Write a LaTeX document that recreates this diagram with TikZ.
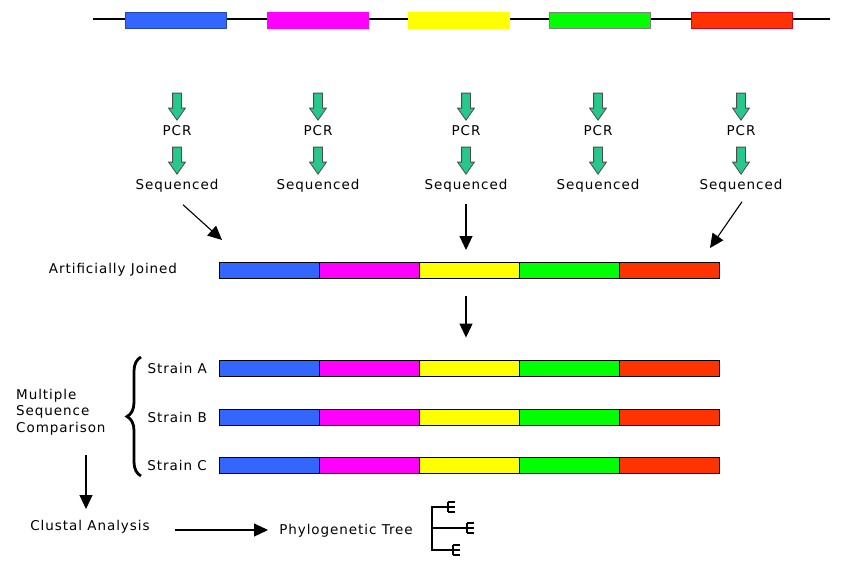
\documentclass[tikz,border=0pt]{standalone}
\usepackage{fontspec}
\setmainfont{DejaVu Sans}[LetterSpace=7]
\usepackage{xcolor}
\usetikzlibrary{shapes.arrows,arrows.meta,decorations.pathreplacing}

\definecolor{segblue}{RGB}{51,102,255}
\definecolor{segmagenta}{RGB}{255,0,255}
\definecolor{segyellow}{RGB}{255,255,0}
\definecolor{seggreen}{RGB}{0,255,0}
\definecolor{segred}{RGB}{255,51,0}
\definecolor{arrowgreen}{RGB}{40,200,140}

\begin{document}
\begin{tikzpicture}
            [x=1pt, y=-1pt,
            every node/.style={font=\fontsize{13.5}{16}\selectfont, inner sep=1pt},
            seg/.style={draw=black, line width=0.9pt, minimum width=100pt, minimum height=16pt, inner sep=0pt},
            gene/.style={line width=1pt, minimum width=101pt, minimum height=16pt, inner sep=0pt},
            greenarrow/.style={single arrow, shape border rotate=270, draw=black!70, fill=arrowgreen,
                minimum height=27pt, inner sep=4pt, single arrow head extend=4pt,
                single arrow tip angle=70, line width=0.8pt},
            bigarrow/.style={line width=1.1pt, -{Triangle[length=14pt,width=13pt]}}]

            \useasboundingbox (0,0) rectangle (853,573);

            % the gene with its five regions
            \draw[line width=2.5pt] (93,19) -- (830,19);
            \foreach \x/\c/\b [count=\i] in {175.5/segblue/segblue!70!black, 317.5/segmagenta/segmagenta,
                    459/segyellow/segyellow, 600/seggreen/gray, 741.5/segred/purple!60!red}
                \node[gene, fill=\c, draw=\b] (g\i) at (\x,20) {};

            % PCR and sequencing of each region
            \foreach \x [count=\i] in {177,318,466,598,741} {
                \node[greenarrow] (ga\i) at (\x,103.5) {};
                \node (pcr\i) at (\x,131) {PCR};
                \node[greenarrow] (gb\i) at (\x,157.5) {};
                \node (seq\i) at (\x,186) {Sequenced};
            }

            % joined sequence and the three strains
            \foreach \row/\y in {j/270, a/368, b/417, c/465}
                \foreach \c [count=\i] in {segblue,segmagenta,segyellow,seggreen,segred}
                    \node[seg, fill=\c] (\row\i) at (169+100*\i,\y) {};

            \node (joined) at (113,270) {Artificially Joined};
            \node[anchor=east] (strainA) at (208,368) {Strain A};
            \node[anchor=east] (strainB) at (208,417) {Strain B};
            \node[anchor=east] (strainC) at (208,465) {Strain C};

            \coordinate (in1) at (222,240);
            \coordinate (in3) at (466,250);
            \coordinate (in5) at (710,248);
            \draw[bigarrow] ([shift={(6,11)}]seq1.south) -- (in1);
            \draw[bigarrow] ([shift={(0,10)}]seq3.south) -- (in3);
            \draw[bigarrow] ([shift={(1,8)}]seq5.south) -- (in5);
            \draw[bigarrow] ([shift={(-3,18)}]j3.south) -- ([shift={(-3,-22)}]a3.north);

            % comparison
            \draw[decorate, decoration={brace, amplitude=14pt}, line width=2.8pt] (141,476) -- (141,357);
            \node[align=left, anchor=west, font=\fontsize{13.5}{16.5}\selectfont] (msc) at (15,412) {Multiple\\Sequence\\Comparison};
            \node (clustal) at (90,527) {Clustal Analysis};
            \node (tree) at (346,531) {Phylogenetic Tree};
            \coordinate (msc-out) at (86,455);
            \coordinate (cl-out) at (175,530);
            \draw[bigarrow] (msc-out) -- (msc-out |- 0,509);
            \draw[bigarrow] (cl-out) -- (cl-out -| 268,0);

            % tree icon
            \draw[line width=2.4pt] (450,507) -- (432,507) -- (432,550) -- (455,550);
            \draw[line width=2.4pt] (432,528) -- (469,528);
            \foreach \x/\y in {448/507, 467/528, 453/550}
                \draw[line width=1.8pt] (\x,\y-5) -- (\x,\y+5)
                    (\x,\y-5) -- ++(7,0) (\x,\y) -- ++(7,0) (\x,\y+5) -- ++(7,0);
\end{tikzpicture}
\end{document}
